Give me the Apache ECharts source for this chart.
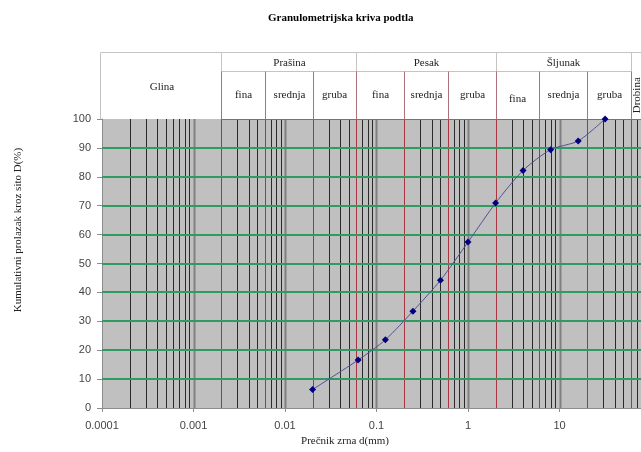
<!DOCTYPE html>
<html>
<head>
<meta charset="utf-8">
<script src="https://cdn.jsdelivr.net/npm/echarts@6/dist/echarts.min.js"></script>
<style>
  html, body { margin: 0; padding: 0; background: #ffffff; }
  #chart { width: 641px; height: 452px; }
</style>
</head>
<body>
<div id="chart"></div>
<script>
// Texts
const chartTitle = 'Granulometrijska kriva podtla';
const xAxisTitle = 'Prečnik zrna d(mm)';
const yAxisTitle = 'Kumulativni prolazak kroz sito D(%)';

// Sieve analysis: grain diameter (mm) and cumulative passing (%)
const grainSize = [0.02, 0.063, 0.125, 0.25, 0.5, 1, 2, 4, 8, 16, 31.5];
const passing   = [6.4, 16.6, 23.6, 33.5, 44.2, 57.4, 70.9, 82.2, 89.4, 92.4, 100];

// Axis tick labels
const xTickLabels = ['0.0001', '0.001', '0.01', '0.1', '1', '10'];
const yTicks = [0, 10, 20, 30, 40, 50, 60, 70, 80, 90, 100];

// Soil fractions shown in the header table
const soilClasses = ['Glina', 'Prašina', 'Pesak', 'Šljunak', 'Drobina'];
const classBounds = [0.0001, 0.002, 0.06, 2, 60, 100];
const subClasses  = ['fina', 'srednja', 'gruba'];
const subBounds   = [0.002, 0.006, 0.02, 0.06, 0.2, 0.6, 2, 6, 20, 60];

// Log-paper grid
const gridDecades     = [0.0001, 0.001, 0.01, 0.1, 1, 10];
const gridMultipliers = [1, 2, 3, 4, 5, 6, 7, 8, 9];
const passingGrid     = [10, 20, 30, 40, 50, 60, 70, 80, 90];

const X_MIN = 0.0001, X_MAX = 100;
const HEADER_SPLIT = 0.71;   // upper/lower row boundary of the header table

const SERIF = '"Liberation Serif", "Times New Roman", serif';
const SANS  = '"Liberation Sans", Arial, sans-serif';

const RED  = '#a8353f';
const GREEN = '#2f9a62';

function renderPlotGrid(params, api) {
  const children = [];
  const yTop = api.coord([1, 100])[1];
  const yBot = api.coord([1, 0])[1];
  gridDecades.forEach(function (d) {
    gridMultipliers.forEach(function (m) {
      const v = d * m;
      if (v <= X_MIN * 1.0001) return;
      const x = Math.round(api.coord([v, 0])[0]);
      const major = m === 1;
      children.push({
        type: 'line', silent: true,
        shape: { x1: x + 0.5, y1: yTop, x2: x + 0.5, y2: yBot },
        style: { stroke: major ? '#808080' : '#2a2a2a', lineWidth: major ? 2 : 1 }
      });
    });
  });
  subBounds.forEach(function (v) {
    const x = Math.round(api.coord([v, 0])[0]);
    children.push({
      type: 'line', silent: true,
      shape: { x1: x + 0.5, y1: yTop, x2: x + 0.5, y2: yBot },
      style: { stroke: RED, lineWidth: 1 }
    });
  });
  const xLeft = api.coord([X_MIN, 0])[0];
  const xRight = api.coord([X_MAX, 0])[0];
  passingGrid.forEach(function (p) {
    const y = Math.round(api.coord([1, p])[1]);
    children.push({
      type: 'line', silent: true,
      shape: { x1: xLeft, y1: y, x2: xRight, y2: y },
      style: { stroke: GREEN, lineWidth: 2 }
    });
  });
  const yT = Math.round(yTop);
  children.push({
    type: 'line', silent: true,
    shape: { x1: api.coord([classBounds[1], 0])[0], y1: yT, x2: xRight, y2: yT },
    style: { stroke: GREEN, lineWidth: 2 }
  });
  return { type: 'group', children: children };
}

function renderHeader(params, api) {
  const children = [];
  const top = Math.round(api.coord([1, 1])[1]) + 0.5;
  const mid = Math.round(api.coord([1, HEADER_SPLIT])[1]) + 0.5;
  const bot = Math.round(api.coord([1, 0])[1]);
  const px = function (v) { return Math.round(api.coord([v, 0.5])[0]) + 0.5; };
  const left = px(X_MIN) - 2;
  const right = px(X_MAX);
  const border = '#c4c4c4';
  const txt = function (s, x, y, rot) {
    children.push({
      type: 'text', silent: true,
      x: x, y: y, rotation: rot || 0,
      style: {
        text: s, fill: '#222', font: '11px ' + SERIF,
        align: 'center', verticalAlign: 'middle'
      }
    });
  };
  const seg = function (x1, y1, x2, y2, c) {
    children.push({
      type: 'line', silent: true,
      shape: { x1: x1, y1: y1, x2: x2, y2: y2 },
      style: { stroke: c, lineWidth: 1 }
    });
  };
  // outer frame
  seg(left, top, right, top, border);
  seg(left, top, left, bot, border);
  // row divider across the subdivided fractions
  seg(px(classBounds[1]), mid, px(classBounds[4]), mid, border);
  // fraction boundaries
  for (let i = 1; i <= 4; i++) {
    const x = px(classBounds[i]);
    seg(x, top, x, mid, border);
  }
  subBounds.forEach(function (v) {
    const x = px(v);
    seg(x, mid, x, bot, '#b0707a');
  });
  // Glina spans both rows
  txt(soilClasses[0], (px(classBounds[0]) + px(classBounds[1])) / 2, (top + bot) / 2 + 1);
  // subdivided fractions
  for (let i = 1; i <= 3; i++) {
    const a = classBounds[i], b = classBounds[i + 1];
    txt(soilClasses[i], px(Math.sqrt(a * b)), (top + mid) / 2 + 1);
    for (let j = 0; j < 3; j++) {
      const sa = subBounds[(i - 1) * 3 + j], sb = subBounds[(i - 1) * 3 + j + 1];
      txt(subClasses[j], px(Math.sqrt(sa * sb)), (mid + bot) / 2 + (i === 3 && j === 0 ? 4 : 0));
    }
  }
  // last (coarsest) fraction, written vertically
  txt(soilClasses[4], px(Math.sqrt(classBounds[4] * classBounds[5])) - 4, (mid + bot) / 2, Math.PI / 2);
  return { type: 'group', children: children };
}

const chart = echarts.init(document.getElementById('chart'), null, { renderer: 'canvas' });

chart.setOption({
  animation: false,
  backgroundColor: '#ffffff',
  title: {
    text: chartTitle,
    left: 263, top: 8,
    textStyle: { fontFamily: SERIF, fontWeight: 'bold', fontSize: 11, color: '#000' }
  },
  graphic: [
    {
      type: 'text', x: 345, y: 441,
      style: { text: xAxisTitle, font: '11px ' + SERIF, fill: '#222', align: 'center', verticalAlign: 'middle' }
    },
    {
      type: 'text', x: 18, y: 230, rotation: Math.PI / 2,
      style: { text: yAxisTitle, font: '11px ' + SERIF, fill: '#222', align: 'center', verticalAlign: 'middle' }
    }
  ],
  grid: [
    { left: 102, top: 119, width: 549, height: 289, show: true, backgroundColor: '#c0c0c0', borderWidth: 0,
      outerBoundsMode: 'none', containLabel: false },
    { left: 102, top: 52, width: 549, height: 67, show: false, outerBoundsMode: 'none', containLabel: false }
  ],
  xAxis: [
    {
      type: 'log', logBase: 10, min: X_MIN, max: X_MAX, gridIndex: 0,
      axisLine: { show: true, lineStyle: { color: '#8c8c8c', width: 1 } },
      axisTick: { show: true, length: 4, lineStyle: { color: '#8c8c8c' } },
      minorTick: { show: false },
      splitLine: { show: false },
      axisLabel: {
        margin: 12, color: '#444', fontFamily: SANS, fontSize: 11,
        formatter: function (v) {
          const i = Math.round(Math.log10(v) - Math.log10(X_MIN));
          return xTickLabels[i] !== undefined ? xTickLabels[i] : '';
        }
      }
    },
    { type: 'log', logBase: 10, min: X_MIN, max: X_MAX, gridIndex: 1, show: false }
  ],
  yAxis: [
    {
      type: 'value', min: yTicks[0], max: yTicks[yTicks.length - 1], interval: 10, gridIndex: 0,
      axisLine: { show: true, lineStyle: { color: '#8c8c8c', width: 1 } },
      axisTick: { show: true, length: 5, lineStyle: { color: '#8c8c8c' } },
      splitLine: { show: false },
      axisLabel: { margin: 11, color: '#444', fontFamily: SANS, fontSize: 11 }
    },
    { type: 'value', min: 0, max: 1, gridIndex: 1, show: false }
  ],
  series: [
    {
      type: 'custom', xAxisIndex: 0, yAxisIndex: 0, silent: true, z: 1,
      renderItem: renderPlotGrid, data: [[1, 50]], clip: true
    },
    {
      type: 'custom', xAxisIndex: 1, yAxisIndex: 1, silent: true, z: 1,
      renderItem: renderHeader, data: [[1, 0.5]]
    },
    {
      type: 'line', xAxisIndex: 0, yAxisIndex: 0, z: 5,
      data: grainSize.map(function (d, i) { return [d, passing[i]]; }),
      smooth: 0.25,
      symbol: 'diamond', symbolSize: 7,
      lineStyle: { color: '#505098', width: 1 },
      itemStyle: { color: '#000080' }
    }
  ]
});
</script>
</body>
</html>
